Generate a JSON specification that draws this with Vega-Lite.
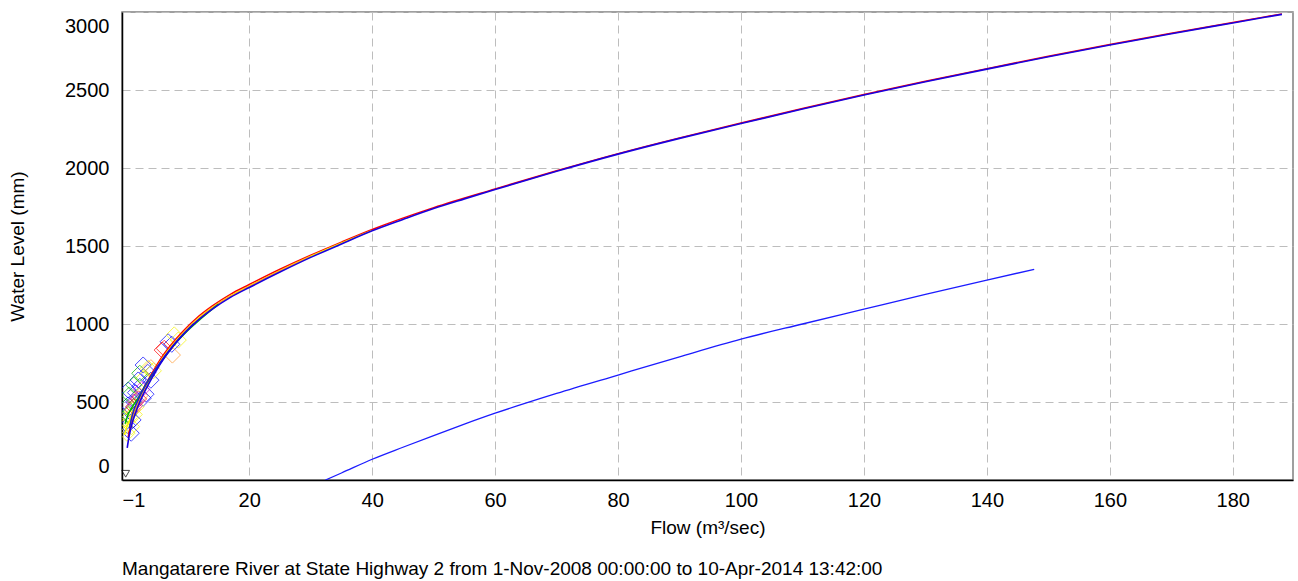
{
  "$schema": "https://vega.github.io/schema/vega-lite/v6.json",
  "width": 1171,
  "height": 468,
  "autosize": {"type": "none"},
  "padding": {"left": 122, "top": 12, "right": 5, "bottom": 101},
  "background": "white",
  "title": {
    "text": "Mangatarere River at State Highway 2 from  1-Nov-2008 00:00:00 to 10-Apr-2014 13:42:00",
    "orient": "bottom",
    "anchor": "start",
    "frame": "group",
    "offset": 23,
    "fontSize": 19,
    "fontWeight": "normal",
    "font": "Liberation Sans",
    "color": "black"
  },
  "config": {
    "font": "Liberation Sans",
    "view": {"stroke": "#808080", "strokeWidth": 1.5},
    "axis": {
      "grid": true,
      "gridColor": "#bdbdbd",
      "gridDash": [8, 5],
      "gridWidth": 1,
      "ticks": false,
      "domainColor": "black",
      "domainWidth": 1.5,
      "labelFont": "Liberation Sans",
      "labelFontSize": 20,
      "labelColor": "black",
      "titleFont": "Liberation Sans",
      "titleFontSize": 19,
      "titleFontWeight": "normal",
      "titleColor": "black"
    }
  },
  "datasets": {
    "curves": [
      {"series": "Red", "flow": 0.3, "level": 275}, {"series": "Red", "flow": 0.7, "level": 350}, {"series": "Red", "flow": 1, "level": 400}, {"series": "Red", "flow": 1.5, "level": 460}, {"series": "Red", "flow": 2, "level": 515}, {"series": "Red", "flow": 3, "level": 600}, {"series": "Red", "flow": 4, "level": 672}, {"series": "Red", "flow": 5, "level": 740}, {"series": "Red", "flow": 6, "level": 800}, {"series": "Red", "flow": 7, "level": 853}, {"series": "Red", "flow": 8, "level": 900}, {"series": "Red", "flow": 9.5, "level": 965}, {"series": "Red", "flow": 11.5, "level": 1040}, {"series": "Red", "flow": 14, "level": 1116}, {"series": "Red", "flow": 17, "level": 1192}, {"series": "Red", "flow": 20, "level": 1253}, {"series": "Red", "flow": 25, "level": 1351}, {"series": "Red", "flow": 30, "level": 1441}, {"series": "Red", "flow": 35, "level": 1525}, {"series": "Red", "flow": 40, "level": 1606}, {"series": "Red", "flow": 50, "level": 1746}, {"series": "Red", "flow": 60, "level": 1866}, {"series": "Red", "flow": 70, "level": 1982}, {"series": "Red", "flow": 80, "level": 2092}, {"series": "Red", "flow": 90, "level": 2193}, {"series": "Red", "flow": 100, "level": 2288}, {"series": "Red", "flow": 110, "level": 2381}, {"series": "Red", "flow": 120, "level": 2471}, {"series": "Red", "flow": 130, "level": 2556}, {"series": "Red", "flow": 140, "level": 2637}, {"series": "Red", "flow": 150, "level": 2716}, {"series": "Red", "flow": 160, "level": 2792}, {"series": "Red", "flow": 170, "level": 2864}, {"series": "Red", "flow": 180, "level": 2933}, {"series": "Red", "flow": 188, "level": 2988},
      {"series": "Yellow", "flow": -0.3, "level": 290}, {"series": "Yellow", "flow": 0, "level": 330}, {"series": "Yellow", "flow": 0.5, "level": 380}, {"series": "Yellow", "flow": 1, "level": 430}, {"series": "Yellow", "flow": 2, "level": 500}, {"series": "Yellow", "flow": 3, "level": 585}, {"series": "Yellow", "flow": 4, "level": 658}, {"series": "Yellow", "flow": 5, "level": 725}, {"series": "Yellow", "flow": 6, "level": 787}, {"series": "Yellow", "flow": 7, "level": 840}, {"series": "Yellow", "flow": 8, "level": 888}, {"series": "Yellow", "flow": 9.5, "level": 952}, {"series": "Yellow", "flow": 11.5, "level": 1029}, {"series": "Yellow", "flow": 14, "level": 1106}, {"series": "Yellow", "flow": 17, "level": 1182}, {"series": "Yellow", "flow": 20, "level": 1243}, {"series": "Yellow", "flow": 25, "level": 1342}, {"series": "Yellow", "flow": 30, "level": 1434}, {"series": "Yellow", "flow": 40, "level": 1600},
      {"series": "Orange", "flow": 0.5, "level": 330}, {"series": "Orange", "flow": 1, "level": 400}, {"series": "Orange", "flow": 2, "level": 495}, {"series": "Orange", "flow": 3, "level": 580}, {"series": "Orange", "flow": 4, "level": 652}, {"series": "Orange", "flow": 5, "level": 720}, {"series": "Orange", "flow": 6, "level": 782}, {"series": "Orange", "flow": 8, "level": 882}, {"series": "Orange", "flow": 10, "level": 965}, {"series": "Orange", "flow": 14, "level": 1104}, {"series": "Orange", "flow": 20, "level": 1240}, {"series": "Orange", "flow": 30, "level": 1432},
      {"series": "Green", "flow": -0.2, "level": 360}, {"series": "Green", "flow": 0.3, "level": 420}, {"series": "Green", "flow": 1, "level": 470}, {"series": "Green", "flow": 2, "level": 530}, {"series": "Green", "flow": 3, "level": 600}, {"series": "Green", "flow": 4, "level": 662}, {"series": "Green", "flow": 6, "level": 775}, {"series": "Green", "flow": 8, "level": 875}, {"series": "Green", "flow": 10, "level": 958}, {"series": "Green", "flow": 15, "level": 1128},
      {"series": "Blue2", "flow": 0.5, "level": 330}, {"series": "Blue2", "flow": 1, "level": 420}, {"series": "Blue2", "flow": 2, "level": 520}, {"series": "Blue2", "flow": 3, "level": 600}, {"series": "Blue2", "flow": 5, "level": 725}, {"series": "Blue2", "flow": 8, "level": 880}, {"series": "Blue2", "flow": 11, "level": 1003}
    ],
    "main": [
      {"flow": 0.15, "level": 206}, {"flow": 0.5, "level": 290}, {"flow": 1, "level": 370}, {"flow": 1.5, "level": 430}, {"flow": 2, "level": 482}, {"flow": 3, "level": 568}, {"flow": 4, "level": 642}, {"flow": 5, "level": 710}, {"flow": 6, "level": 772}, {"flow": 7, "level": 827}, {"flow": 8, "level": 876}, {"flow": 9.5, "level": 942}, {"flow": 11.5, "level": 1018}, {"flow": 14, "level": 1095}, {"flow": 17, "level": 1172}, {"flow": 20, "level": 1234}, {"flow": 25, "level": 1333}, {"flow": 30, "level": 1427}, {"flow": 35, "level": 1513}, {"flow": 40, "level": 1597}, {"flow": 45, "level": 1670}, {"flow": 50, "level": 1740}, {"flow": 55, "level": 1802}, {"flow": 60, "level": 1862}, {"flow": 70, "level": 1979}, {"flow": 80, "level": 2089}, {"flow": 90, "level": 2190}, {"flow": 100, "level": 2285}, {"flow": 110, "level": 2378}, {"flow": 120, "level": 2468}, {"flow": 130, "level": 2553}, {"flow": 140, "level": 2634}, {"flow": 150, "level": 2713}, {"flow": 160, "level": 2789}, {"flow": 170, "level": 2861}, {"flow": 180, "level": 2930}, {"flow": 188, "level": 2985}
    ],
    "lower": [
      {"flow": 32.4, "level": 0}, {"flow": 35, "level": 45}, {"flow": 40, "level": 133}, {"flow": 45, "level": 210}, {"flow": 50, "level": 285}, {"flow": 55, "level": 358}, {"flow": 60, "level": 428}, {"flow": 70, "level": 555}, {"flow": 80, "level": 673}, {"flow": 90, "level": 790}, {"flow": 100, "level": 903}, {"flow": 110, "level": 1000}, {"flow": 120, "level": 1095}, {"flow": 130, "level": 1190}, {"flow": 140, "level": 1282}, {"flow": 147.7, "level": 1350}
    ],
    "gaugings": [
      {"series": "Blue", "flow": 0.3, "level": 577}, {"series": "Blue", "flow": 2.74, "level": 524}, {"series": "Blue", "flow": 0.3, "level": 481}, {"series": "Blue", "flow": 1.1, "level": 385}, {"series": "Blue", "flow": 0.57, "level": 438}, {"series": "Blue", "flow": 1.93, "level": 641}, {"series": "Blue", "flow": 2.74, "level": 737}, {"series": "Blue", "flow": 6.8, "level": 886}, {"series": "Blue", "flow": 7.4, "level": 870}, {"series": "Blue", "flow": 0.8, "level": 300}, {"series": "Blue", "flow": 1.5, "level": 560}, {"series": "Blue", "flow": 2.2, "level": 600}, {"series": "Blue", "flow": 3.2, "level": 550}, {"series": "Blue", "flow": 0.2, "level": 350}, {"series": "Blue", "flow": 1.2, "level": 500}, {"series": "Blue", "flow": 3.5, "level": 690}, {"series": "Blue", "flow": 4.0, "level": 640},
      {"series": "Yellow", "flow": -0.24, "level": 342}, {"series": "Yellow", "flow": 0.85, "level": 342}, {"series": "Yellow", "flow": 3.56, "level": 716}, {"series": "Yellow", "flow": 8.45, "level": 897}, {"series": "Yellow", "flow": 0.1, "level": 300}, {"series": "Yellow", "flow": 0.5, "level": 400}, {"series": "Yellow", "flow": 1.6, "level": 470}, {"series": "Yellow", "flow": 2.8, "level": 650}, {"series": "Yellow", "flow": 4.4, "level": 700}, {"series": "Yellow", "flow": 7.8, "level": 930}, {"series": "Yellow", "flow": -0.3, "level": 390}, {"series": "Yellow", "flow": 1.3, "level": 420},
      {"series": "Green", "flow": 2.2, "level": 684}, {"series": "Green", "flow": 0.0, "level": 470}, {"series": "Green", "flow": 0.5, "level": 545}, {"series": "Green", "flow": 1.2, "level": 610}, {"series": "Green", "flow": 0.3, "level": 420},
      {"series": "Orange", "flow": 7.5, "level": 801}, {"series": "Orange", "flow": 2.2, "level": 540}, {"series": "Orange", "flow": 4.0, "level": 720}, {"series": "Orange", "flow": 1.0, "level": 450},
      {"series": "Red", "flow": 6.17, "level": 844}, {"series": "Red", "flow": 5.84, "level": 833}, {"series": "Red", "flow": 1.2, "level": 470}, {"series": "Red", "flow": 2.0, "level": 520},
      {"series": "Magenta", "flow": 1.5, "level": 500}, {"series": "Magenta", "flow": 2.5, "level": 580}
    ],
    "marker": [
      {"flow": -0.1, "level": 40}
    ]
  },
  "encoding": {
    "x": {
      "field": "flow",
      "type": "quantitative",
      "scale": {"domain": [-0.7, 189.8], "nice": false, "zero": false},
      "axis": {
        "title": "Flow (m³/sec)",
        "values": [-0.7, 20, 40, 60, 80, 100, 120, 140, 160, 180],
        "format": ".0f",
        "labelFlush": true,
        "labelPadding": 10,
        "titlePadding": 8
      }
    },
    "y": {
      "field": "level",
      "type": "quantitative",
      "scale": {"domain": [0, 3000], "nice": false},
      "axis": {
        "title": "Water Level (mm)",
        "values": [0, 500, 1000, 1500, 2000, 2500, 3000],
        "format": "d",
        "labelFlush": true,
        "labelFlushOffset": -4,
        "labelPadding": 13,
        "titlePadding": 37
      }
    }
  },
  "layer": [
    {
      "data": {"name": "gaugings"},
      "mark": {"type": "point", "shape": "diamond", "filled": false, "size": 260, "strokeWidth": 1, "clip": true},
      "encoding": {
        "color": {
          "field": "series",
          "type": "nominal",
          "scale": {"domain": ["Blue", "Yellow", "Green", "Orange", "Red", "Magenta", "Blue2"], "range": ["#0000ff", "#f5f500", "#00b400", "#ff9a2e", "#ff0000", "#e000e0", "#2020d0"]},
          "legend": null
        }
      }
    },
    {
      "data": {"name": "curves"},
      "mark": {"type": "line", "strokeWidth": 1.5, "interpolate": "monotone", "clip": true},
      "encoding": {
        "color": {"field": "series", "type": "nominal", "legend": null},
        "detail": {"field": "series"}
      }
    },
    {
      "data": {"name": "main"},
      "mark": {"type": "line", "strokeWidth": 1.6, "color": "#1a00e0", "interpolate": "monotone", "clip": true},
      "encoding": {}
    },
    {
      "data": {"name": "lower"},
      "mark": {"type": "line", "strokeWidth": 1.3, "color": "#1c1cff", "interpolate": "monotone", "clip": true},
      "encoding": {}
    },
    {
      "data": {"name": "marker"},
      "mark": {"type": "point", "shape": "triangle-down", "filled": true, "fill": "white", "stroke": "black", "strokeWidth": 1, "size": 60},
      "encoding": {}
    }
  ]
}
